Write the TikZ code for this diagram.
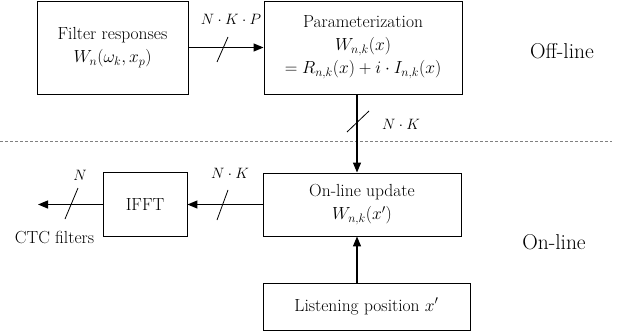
\RequirePackage{fix-cm}
\documentclass[tikz,border=0pt]{standalone}
\usetikzlibrary{arrows.meta}
\begin{document}
\begin{tikzpicture}[x=1pt,y=-1pt,
  blk/.style={draw,line width=0.9pt,inner sep=0pt,align=center,
    font=\fontsize{17.5pt}{23pt}\selectfont},
  conn/.style={line width=1.2pt,-{Triangle[length=10pt,width=8pt]}},
  slashmark/.style={line width=0.8pt},
  lbl/.style={font=\fontsize{15pt}{17pt}\selectfont,inner sep=0pt},
  side/.style={font=\fontsize{21.5pt}{26pt}\selectfont,inner sep=0pt}]
\useasboundingbox (0,0) rectangle (620,334);
% boxes
\node[blk,minimum width=151pt,minimum height=93pt] (filt) at (112.5,47.5)
  {Filter responses\\ $W_n(\omega_k,x_p)$};
\node[blk,minimum width=198pt,minimum height=93pt] (param) at (363,47.5)
  {Parameterization\\ $W_{n,k}(x)$\\ $=R_{n,k}(x)+i\cdot I_{n,k}(x)$};
\node[blk,minimum width=198pt,minimum height=63pt] (upd) at (362,204.5)
  {On-line update\\ $W_{n,k}(x')$};
\node[blk,minimum width=84pt,minimum height=64pt] (ifft) at (145,204.5) {IFFT};
\node[blk,minimum width=207pt,minimum height=47pt] (lis) at (366.5,306.5)
  {Listening position $x'$};
\coordinate (vx) at (357,0);
\coordinate (out) at (38,204.5);
% dashed separator
\draw[gray,line width=0.8pt,dash pattern=on 3pt off 2pt] (0,141) -- (612,141);
% connectors
\draw[conn] (filt.east) -- (param.west);
\draw[conn] (vx |- param.south) -- (vx |- upd.north);
\draw[conn] (vx |- lis.north) -- (vx |- upd.south);
\draw[conn] (upd.west) -- (ifft.east);
\draw[conn] (ifft.west) -- (out);
% bus slashes
\draw[slashmark] (217,62) -- (228,37);
\draw[slashmark] (347,132) -- (369,111);
\draw[slashmark] (217,220) -- (228,190);
\draw[slashmark] (65,219) -- (78,188);
% labels
\node[lbl] (l1) at (231,19) {$N\cdot K\cdot P$};
\node[lbl,anchor=west] (l2) at (382,124) {$N\cdot K$};
\node[lbl] (l3) at (230,173) {$N\cdot K$};
\node[lbl] (l4) at (80,175) {$N$};
\node[font=\fontsize{17.5pt}{22pt}\selectfont,inner sep=0pt] (ctc) at (54.5,237) {CTC filters};
\node[side] (off) at (562,51) {Off-line};
\node[side] (on) at (554,242) {On-line};
\end{tikzpicture}
\end{document}
